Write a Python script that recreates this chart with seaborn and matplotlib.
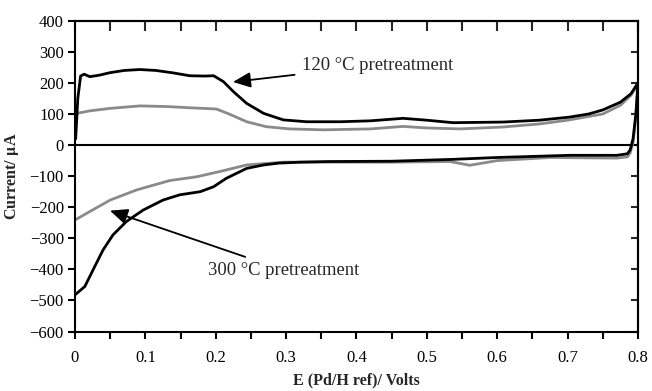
import numpy as np
import pandas as pd
import matplotlib.pyplot as plt
import seaborn as sns
from matplotlib.ticker import MultipleLocator

sns.set_theme(style="white")
plt.rcParams['font.family'] = ['Liberation Serif', 'DejaVu Serif']
plt.rcParams['mathtext.fontset'] = 'stix'

# 120 °C pretreatment (black): anodic sweep then cathodic sweep back
e_120_an = [0.001, 0.004, 0.008, 0.013, 0.021, 0.035, 0.05, 0.07, 0.092, 0.115, 0.14, 0.163, 0.185, 0.197,
            0.211, 0.225, 0.244, 0.268, 0.296, 0.329, 0.377, 0.42, 0.466, 0.50, 0.537, 0.608, 0.66,
            0.703, 0.73, 0.75, 0.775, 0.79, 0.80]
i_120_an = [20, 150, 222, 228, 220, 225, 233, 240, 243, 240, 232, 223, 222, 223,
            204, 172, 134, 102, 81, 75, 75, 78, 86, 80, 72, 74, 80,
            90, 100, 113, 138, 165, 200]
e_120_ca = [0.80, 0.797, 0.793, 0.789, 0.785, 0.77, 0.703, 0.60, 0.537, 0.45, 0.36, 0.32, 0.29, 0.268,
            0.244, 0.215, 0.197, 0.178, 0.149, 0.125, 0.097, 0.073, 0.054, 0.040, 0.028, 0.014, 0.0]
i_120_ca = [200, 100, 20, -15, -28, -33, -33, -40, -46, -52, -53, -55, -58, -64,
            -75, -107, -134, -150, -160, -177, -209, -246, -289, -337, -391, -455, -482]

# 300 °C pretreatment (gray)
e_300_an = [0.0, 0.005, 0.021, 0.05, 0.092, 0.13, 0.163, 0.201, 0.220, 0.244, 0.272, 0.305, 0.353,
            0.42, 0.466, 0.50, 0.547, 0.608, 0.66, 0.70, 0.75, 0.775, 0.79, 0.80]
i_300_an = [97, 103, 110, 118, 126, 124, 120, 116, 99, 75, 59, 52, 49,
            52, 60, 55, 52, 58, 68, 80, 100, 128, 160, 195]
e_300_ca = [0.80, 0.797, 0.793, 0.789, 0.785, 0.77, 0.675, 0.60, 0.561, 0.533, 0.45, 0.36, 0.296, 0.244,
            0.206, 0.173, 0.135, 0.088, 0.050, 0.021, 0.0]
i_300_ca = [195, 90, 10, -25, -38, -42, -40, -50, -65, -53, -55, -55, -55, -64,
            -85, -102, -114, -144, -177, -214, -241]

df = pd.concat([
    pd.DataFrame({'E': e_120_an + e_120_ca, 'I': i_120_an + i_120_ca, 'T': '120'}),
    pd.DataFrame({'E': e_300_an + e_300_ca, 'I': i_300_an + i_300_ca, 'T': '300'}),
], ignore_index=True)

fig = plt.figure(figsize=(6.52, 3.91), dpi=100)
ax = fig.add_axes([0.115, 0.152, 0.8635, 0.795])

sns.lineplot(data=df, x='E', y='I', hue='T', palette={'120': 'black', '300': '#8a8a8a'},
             hue_order=['300', '120'], sort=False, estimator=None, units='T',
             linewidth=2.0, legend=False, ax=ax)
for ln in ax.lines:
    ln.set_solid_joinstyle('round')

ax.axhline(0, color='black', lw=1.5, zorder=1)
ax.set_xlim(0, 0.8)
ax.set_ylim(-600, 400)
ax.xaxis.set_major_locator(MultipleLocator(0.1))
ax.xaxis.set_minor_locator(MultipleLocator(0.05))
ax.yaxis.set_major_locator(MultipleLocator(100))
ax.set_xticklabels(['0' if abs(v) < 1e-9 else f'{v:.1f}' for v in ax.get_xticks()])
ax.tick_params(axis='both', which='both', direction='out', length=5, width=1.5,
               colors='black', labelsize=12, pad=3)
ax.tick_params(axis='x', which='both', bottom=True, top=False)
ax.tick_params(axis='y', which='both', left=True, right=False)
ax.tick_params(axis='x', pad=8)

top = ax.secondary_xaxis('top')
top.xaxis.set_major_locator(MultipleLocator(0.05))
top.tick_params(direction='in', length=7, width=1.5, labeltop=False)
right = ax.secondary_yaxis('right')
right.yaxis.set_major_locator(MultipleLocator(100))
right.tick_params(direction='in', length=5, width=1.5, labelright=False)
for a in (ax, top, right):
    for s in a.spines.values():
        s.set_color('black')
        s.set_linewidth(1.5)

ax.set_xlabel('E (Pd/H ref)/ Volts', fontsize=11.5, fontweight='bold', labelpad=5)
ax.set_ylabel('Current/ $\\mathbf{\\mu}$A', fontsize=11.5, fontweight='bold', labelpad=6)

ax.annotate('120 °C pretreatment', xy=(0.2245, 203), xytext=(0.3226, 257),
            fontsize=13.4, va='center', ha='left',
            arrowprops=dict(arrowstyle='-|>,head_length=0.8,head_width=0.35', color='black', lw=1.3,
                            shrinkA=3, shrinkB=0))
ax.annotate('300 °C pretreatment', xy=(0.0497, -211), xytext=(0.189, -402),
            fontsize=13.4, va='center', ha='left',
            arrowprops=dict(arrowstyle='-|>,head_length=0.8,head_width=0.35', color='black', lw=1.3,
                            shrinkA=3, shrinkB=0))

plt.savefig('out.png', dpi=100)
plt.close()
